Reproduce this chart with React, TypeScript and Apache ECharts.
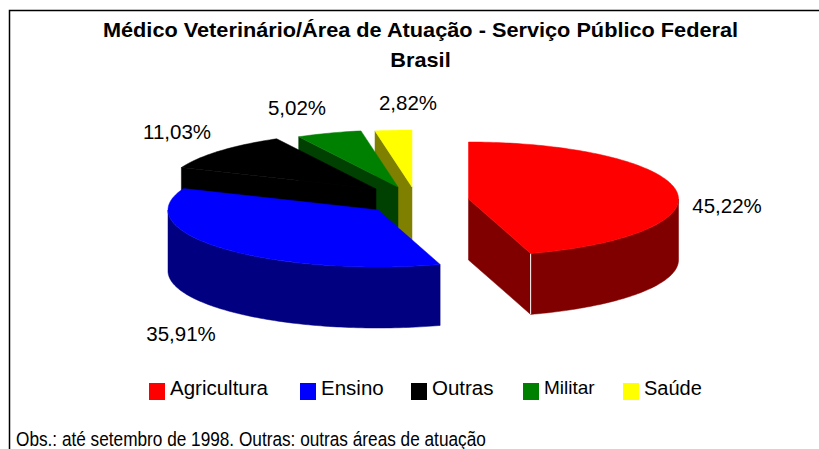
import React, { useEffect, useRef } from "react";
import * as echarts from "echarts";

const categories = ["Agricultura", "Ensino", "Outras", "Militar", "Saúde"];
const shares = [45.22, 35.91, 11.03, 5.02, 2.82];
const titleLines = ["Médico Veterinário/Área de Atuação - Serviço Público Federal", "Brasil"];
const footnote = "Obs.: até setembro de 1998. Outras: outras áreas de atuação";

const topColors = ["#ff0000", "#0000ff", "#000000", "#008000", "#ffff00"];
const sideColors = ["#800000", "#000080", "#000000", "#004000", "#808000"];
const apexes = [[468.5, 199], [378, 210], [376, 189], [398, 187], [412, 187]];
const labelAnchors = [[727, 205], [181, 333], [177, 131], [297, 107], [408, 102]];
const legendLefts = [149, 300, 411, 523, 623];
const legendFontSizes = [20.5, 20.5, 20.5, 19, 20];
const RX = 210;
const RY = 57;
const DEPTH = 61;

const total = shares.reduce((a, b) => a + b, 0);
const rad = (share: number) => (share / total) * Math.PI * 2;

function sliceChildren(i: number, value: number) {
  const start = shares.slice(0, i).reduce((s, v) => s + rad(v), 0);
  const end = start + rad(value);
  const [cx, cy] = apexes[i];
  const at = (t: number, d = 0): number[] => [cx + RX * Math.sin(t), cy - RY * Math.cos(t) + d];
  const arc = (a: number, b: number, d = 0) => {
    const n = Math.max(2, Math.ceil(Math.abs(b - a) / 0.02));
    const out: number[][] = [];
    for (let k = 0; k <= n; k++) out.push(at(a + ((b - a) * k) / n, d));
    return out;
  };
  const side = sideColors[i];
  const poly = (points: number[][], fill: string) => ({
    type: "polygon",
    shape: { points },
    style: { fill, stroke: fill, lineWidth: 0.5 },
  });
  const children: any[] = [];
  const face = (t: number) =>
    poly([[cx, cy], at(t), at(t, DEPTH), [cx, cy + DEPTH]], side);
  if (Math.sin(start) < -1e-6) children.push(face(start));
  if (Math.sin(end) > 1e-6) children.push(face(end));
  const wa = Math.max(start, Math.PI / 2);
  const wb = Math.min(end, (Math.PI * 3) / 2);
  if (wb > wa) {
    children.push(poly([...arc(wa, wb), ...arc(wb, wa, DEPTH)], side));
  }
  if (Math.sin(end) > 1e-6 && Math.cos(end) < 0) {
    children.push({
      type: "line",
      shape: { x1: at(end)[0], y1: at(end)[1], x2: at(end)[0], y2: at(end, DEPTH)[1] },
      style: { stroke: "#ffffff", lineWidth: 1 },
    });
  }
  children.push(poly([[cx, cy], ...arc(start, end)], topColors[i]));
  children.push({
    type: "text",
    x: labelAnchors[i][0],
    y: labelAnchors[i][1],
    style: {
      text: value.toFixed(2).replace(".", ",") + "%",
      fill: "#000000",
      font: '20.5px "Liberation Sans"',
      align: "center",
      verticalAlign: "middle",
    },
  });
  return children;
}

export default function App() {
  const ref = useRef<HTMLDivElement>(null);
  useEffect(() => {
    const chart = echarts.init(ref.current!, null, { renderer: "svg" });
    chart.setOption({
      animation: false,
      backgroundColor: "#ffffff",
      legend: categories.map((name, i) => ({
        left: legendLefts[i],
        top: 375,
        padding: 0,
        icon: "path://M0 0L16 0L16 0Z M0 8L16 8L16 25L0 25Z",
        itemWidth: 16,
        itemHeight: 25,
        selectedMode: false,
        data: [name],
        textStyle: {
          fontFamily: "Liberation Sans",
          fontSize: legendFontSizes[i],
          color: "#000000",
        },
      })),
      graphic: [
        {
          type: "polyline",
          shape: { points: [[9.5, 449], [9.5, 10.5], [819, 10.5]] },
          style: { fill: "none", stroke: "#000000", lineWidth: 1.5 },
        },
        ...titleLines.map((text, i) => ({
          type: "text",
          x: 420.5,
          y: 30 + i * 30,
          scaleX: 1.06,
          style: {
            text,
            fill: "#000000",
            font: 'bold 20.5px "Liberation Sans"',
            align: "center",
            verticalAlign: "middle",
          },
        })),
        {
          type: "text",
          x: 16,
          y: 449,
          scaleX: 0.84,
          style: {
            text: footnote,
            fill: "#000000",
            font: '20.5px "Liberation Sans"',
            align: "left",
            verticalAlign: "bottom",
          },
        },
      ],
      series: categories.map((name, i) => ({
        type: "custom",
        name,
        coordinateSystem: "none",
        z: categories.length - i + 1,
        itemStyle: { color: topColors[i] },
        data: [[shares[i]]],
        renderItem: (_p: any, api: any) => ({
          type: "group",
          children: sliceChildren(i, api.value(0)),
        }),
      })),
    });
    return () => chart.dispose();
  }, []);
  return <div ref={ref} style={{ position: "absolute", left: 0, top: 0, width: 819, height: 449 }} />;
}
